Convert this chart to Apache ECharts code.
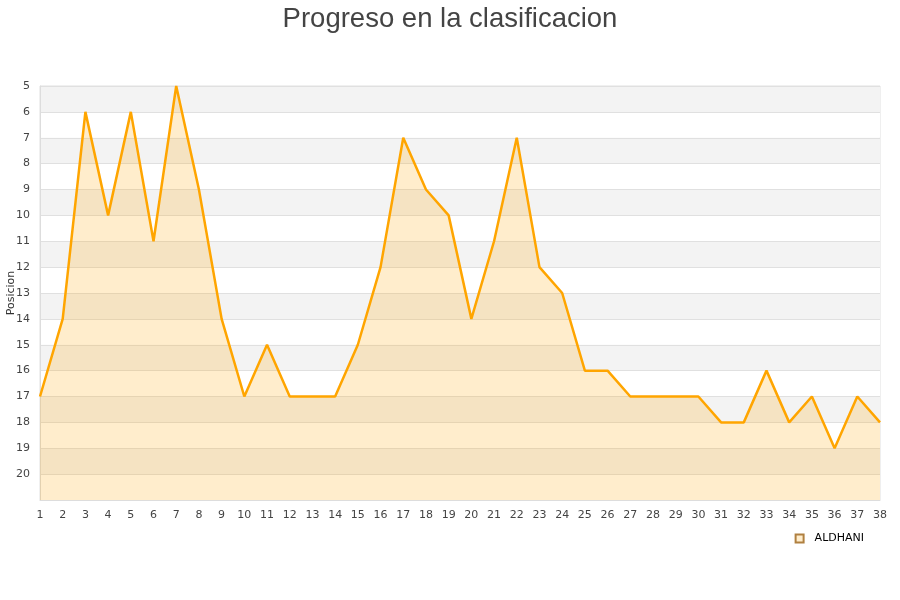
<!DOCTYPE html>
<html><head><meta charset="utf-8">
<script src="https://cdn.jsdelivr.net/npm/echarts@6/dist/echarts.min.js"></script>
<style>html,body{margin:0;padding:0;background:#fff}#c{width:900px;height:600px}</style>
</head><body><div id="c"></div>
<script>
const jornadas = ['1','2','3','4','5','6','7','8','9','10','11','12','13','14','15','16','17','18','19','20','21','22','23','24','25','26','27','28','29','30','31','32','33','34','35','36','37','38'];
const posiciones = [17,14,6,10,6,11,5,9,14,17,15,17,17,17,15,12,7,9,10,14,11,7,12,13,16,16,17,17,17,17,18,18,16,18,17,19,17,18];
const serieNombre = 'ALDHANI';
const chart = echarts.init(document.getElementById('c'));
chart.setOption({
  animation: false,
  title: {text: 'Progreso en la clasificacion', left: 'center', top: 0,
    textStyle: {fontFamily: 'Liberation Sans, Arial', fontSize: 27.5, fontWeight: 'normal', color: '#444'}},
  grid: {left: 40, right: 20, top: 86, bottom: 100, show: true, borderColor: '#e0e0e0', borderWidth: 1,
    containLabel: false, outerBoundsMode: 'none'},
  legend: {data: [{name: serieNombre, icon: 'rect'}], right: 31, top: 528, itemWidth: 8, itemHeight: 8,
    textStyle: {fontFamily: 'DejaVu Sans', fontSize: 11, color: '#000', padding: [0, 0, 0, 6]}},
  xAxis: {type: 'category', data: jornadas, boundaryGap: false,
    axisLine: {show: true, lineStyle: {color: '#ddd'}}, axisTick: {show: false},
    axisLabel: {interval: 0, color: '#444', fontFamily: 'DejaVu Sans', fontSize: 11, margin: 10},
    splitLine: {show: false}},
  yAxis: {type: 'value', inverse: true, min: 5, max: 21, interval: 1,
    name: 'Posicion', nameLocation: 'middle', nameGap: 23, nameMoveOverlap: false,
    nameTextStyle: {fontFamily: 'DejaVu Sans', fontSize: 11, color: '#333'},
    axisLine: {show: true, lineStyle: {color: '#ddd'}}, axisTick: {show: false},
    axisLabel: {color: '#444', fontFamily: 'DejaVu Sans', fontSize: 11, margin: 10,
      formatter: v => v >= 21 ? '' : String(v)},
    splitLine: {show: true, lineStyle: {color: '#e0e0e0'}},
    splitArea: {show: true, areaStyle: {color: ['#f3f3f3', '#ffffff']}}},
  series: [{name: serieNombre, type: 'line', data: posiciones, symbol: 'none',
    lineStyle: {color: '#ffa500', width: 2.5},
    itemStyle: {color: 'rgba(255,165,0,0.2)', borderColor: '#b08040', borderWidth: 1},
    areaStyle: {color: '#ffa500', opacity: 0.2, origin: 'end'}}]
});
</script></body></html>
